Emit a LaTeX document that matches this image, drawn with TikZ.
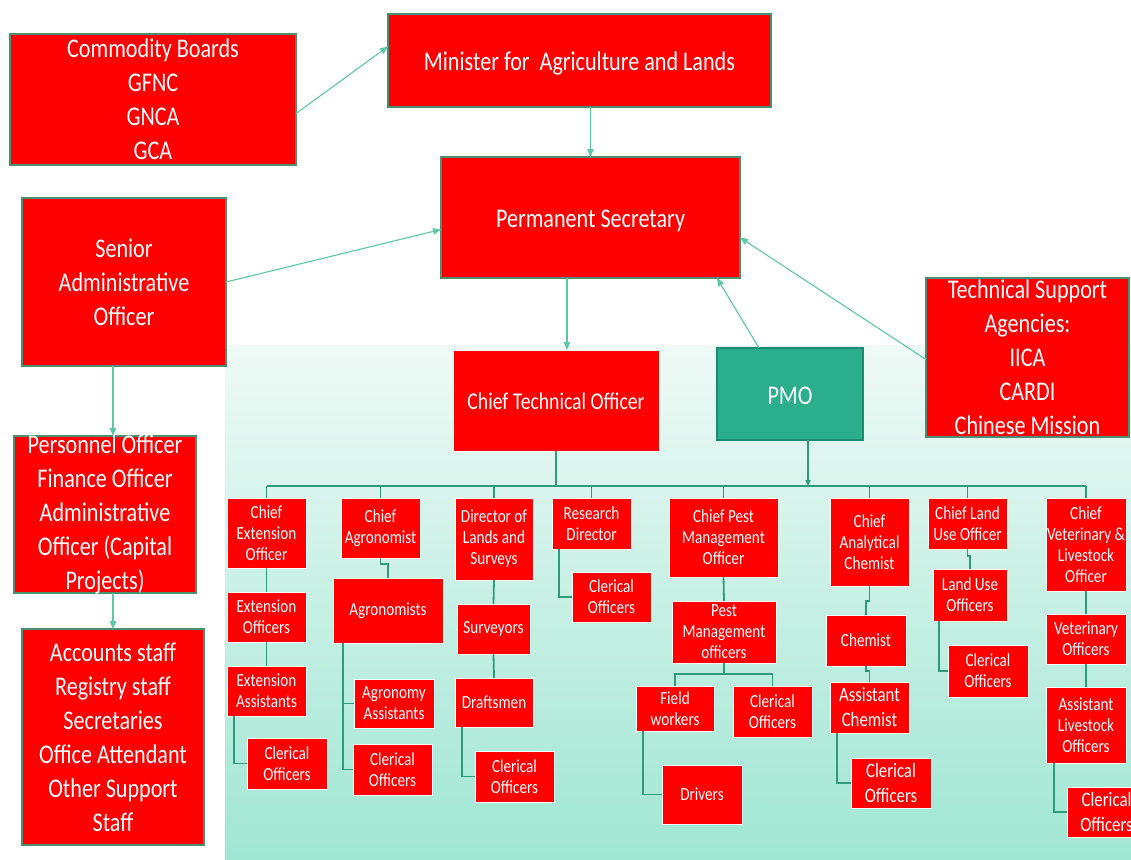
\documentclass[tikz,border=0pt]{standalone}
\usepackage{fontspec}
\setmainfont{Carlito}
\newfontfamily\cf{Carlito}[FakeStretch=0.82]
\usetikzlibrary{arrows.meta,calc}
\definecolor{redbox}{HTML}{FF0000}
\definecolor{bordG}{HTML}{4A9070}
\definecolor{pmoF}{HTML}{2BAE8C}
\definecolor{pmoB}{HTML}{1E8C6E}
\definecolor{arrC}{HTML}{5DC8A8}
\definecolor{treeC}{HTML}{2F9B7D}
\definecolor{bgTop}{HTML}{EFFAF6}
\definecolor{bgMid}{HTML}{B8ECDF}
\definecolor{bgBot}{HTML}{A0E6D3}
\tikzset{
  bigbox/.style={rectangle,draw=bordG,line width=1.2pt,fill=redbox,inner sep=0pt,outer sep=0pt},
  bigboxtxt/.style={text=white,align=center,inner sep=0pt,font=\cf\fontsize{27}{34}\selectfont},
  bigone/.style={bigbox},
  bigonetxt/.style={bigboxtxt,yshift=-3pt},
  ctobox/.style={rectangle,draw=white,line width=1pt,fill=redbox,inner sep=0pt,outer sep=0pt},
  ctoboxtxt/.style={text=white,align=center,inner sep=0pt,yshift=-1pt,font=\cf\fontsize{24}{29}\selectfont},
  pmobox/.style={rectangle,draw=pmoB,line width=1.2pt,fill=pmoF,inner sep=0pt,outer sep=0pt},
  pmoboxtxt/.style={text=white,align=center,inner sep=0pt,yshift=-2pt,font=\cf\fontsize{27}{34}\selectfont},
  smbox/.style={rectangle,draw=white,line width=1pt,fill=redbox,inner sep=0pt,outer sep=0pt},
  smboxtxt/.style={text=white,align=center,inner sep=0pt,font=\cf\fontsize{18.5}{21}\selectfont},
  sbbox/.style={rectangle,draw=white,line width=1pt,fill=redbox,inner sep=0pt,outer sep=0pt},
  sbboxtxt/.style={text=white,align=center,inner sep=0pt,font=\cf\fontsize{20.5}{25}\selectfont},
  arr/.style={draw=arrC,line width=1.1pt,-{Triangle[length=8pt,width=6.5pt]}},
  tree/.style={draw=treeC,line width=1.8pt},
  treearr/.style={draw=treeC,line width=1.4pt,-{Triangle[length=6pt,width=5pt]}}
}
\newcommand{\obox}[7]{%
  \node[#1, minimum width={#5-#3}, minimum height={#6-#4}] (#2) at ({(#3+#5)/2},{(#4+#6)/2}) {};
  \node[#1txt] at (#2.center) {#7};}
\begin{document}
\begin{tikzpicture}[x=1pt,y=-1pt]
\useasboundingbox (0,0) rectangle (1131,859);
\fill[white] (0,0) rectangle (1131,859);
\shade[top color=bgTop, middle color=bgMid, bottom color=bgBot] (225,345) rectangle (1131,859);

% top part
\obox{bigbox}{cb}{10}{34}{296}{165}{Commodity Boards\\GFNC\\GNCA\\GCA}
\obox{bigone}{mn}{388}{14}{771}{107}{Minister for\ \ Agriculture and Lands}
\obox{bigone}{ps}{441}{157}{740}{278}{Permanent Secretary}
\obox{bigbox}{sa}{22}{198}{226}{366}{Senior\\Administrative\\Officer}
\obox{bigbox}{tsa}{926}{278}{1129}{437}{Technical Support\\Agencies:\\IICA\\CARDI\\Chinese Mission}
\obox{bigbox}{po}{14}{436}{196}{593}{Personnel Officer\\Finance Officer\\Administrative\\Officer (Capital\\Projects)}
\obox{bigbox}{acc}{22}{629}{204}{845}{Accounts staff\\Registry staff\\Secretaries\\Office Attendant\\Other Support\\Staff}
\obox{ctobox}{cto}{453}{350}{659}{451}{Chief Technical Officer}
\obox{pmobox}{pmo}{717}{348}{863}{440}{PMO}

% arrows
\draw[arr] ([yshift=-14pt]cb.east) -- ([yshift=14pt]mn.west);
\draw[arr] (ps.north |- mn.south) -- (ps.north);
\draw[arr] (sa.east) -- ([yshift=-12pt]ps.west);
\draw[arr] ([yshift=-2pt]tsa.west) -- ([yshift=-20pt]ps.east);
\draw[arr] ([xshift=-31pt]pmo.north) -- ([xshift=-23pt]ps.south east);
\draw[arr] ([xshift=-23.5pt]ps.south) -- ([xshift=-23.5pt]ps.south |- cto.north);
\draw[arr] (acc.north |- sa.south) -- (acc.north |- po.north);
\draw[arr] (acc.north |- po.south) -- (acc.north);

% level 1
\obox{smbox}{ceo}{227}{498}{306}{568}{Chief\\Extension\\Officer}
\obox{smbox}{ca}{341}{498}{420}{558}{Chief\\Agronomist}
\obox{smbox}{dls}{455}{498}{533}{580}{Director of\\Lands and\\Surveys}
\obox{smbox}{rd}{552}{498}{631}{549}{Research\\Director}
\obox{smbox}{cpm}{669}{498}{778}{577}{Chief Pest\\Management\\Officer}
\obox{smbox}{cac}{830}{498}{909}{586}{Chief\\Analytical\\Chemist}
\obox{smbox}{clu}{928}{498}{1007}{549}{Chief Land\\Use Officer}
\obox{smbox}{cvo}{1046}{498}{1126}{591}{Chief\\Veterinary \&\\Livestock\\Officer}

% lower levels
\obox{smbox}{eo}{227}{592}{306}{642}{Extension\\Officers}
\obox{smbox}{eas}{227}{666}{306}{716}{Extension\\Assistants}
\obox{smbox}{co1}{247}{738}{327}{789}{Clerical\\Officers}
\obox{smbox}{agr}{333}{578}{443}{643}{Agronomists}
\obox{smbox}{aa}{354}{679}{434}{728}{Agronomy\\Assistants}
\obox{smbox}{co2}{353}{744}{432}{795}{Clerical\\Officers}
\obox{smbox}{sv}{457}{604}{530}{654}{Surveyors}
\obox{smbox}{dm}{455}{678}{533}{727}{Draftsmen}
\obox{smbox}{co3}{475}{751}{554}{802}{Clerical\\Officers}
\obox{smbox}{co4}{572}{572}{651}{622}{Clerical\\Officers}
\obox{smbox}{pmf}{672}{601}{776}{663}{Pest\\Management\\officers}
\obox{smbox}{fw}{636}{686}{714}{731}{Field\\workers}
\obox{smbox}{co5}{733}{686}{812}{737}{Clerical\\Officers}
\obox{smbox}{drv}{662}{765}{742}{824}{Drivers}
\obox{smbox}{chem}{826}{615}{906}{666}{Chemist}
\obox{sbbox}{ach}{830}{682}{909}{733}{Assistant\\Chemist}
\obox{sbbox}{co6}{851}{758}{931}{808}{Clerical\\Officers}
\obox{smbox}{luo}{933}{569}{1007}{621}{Land Use\\Officers}
\obox{smbox}{co7}{948}{645}{1028}{697}{Clerical\\Officers}
\obox{smbox}{vo}{1046}{614}{1126}{664}{Veterinary\\Officers}
\obox{smbox}{alo}{1046}{687}{1126}{763}{Assistant\\Livestock\\Officers}
\obox{sbbox}{co8}{1067}{787}{1146}{837}{Clerical\\Officers}

% tree connectors
\coordinate (bus) at (0,486);
\draw[tree] (cto.south) -- (cto.south |- bus);
\draw[tree] (ceo.north |- bus) -- (cvo.north |- bus);
\foreach \n in {ceo,ca,dls,rd,cpm,cac,clu,cvo}{\draw[tree] (\n.north |- bus) -- (\n.north);}
\draw[treearr] ([xshift=18pt]pmo.south) -- ([xshift=18pt]pmo.south |- bus);

\draw[tree] (ceo.south) -- (eo.north);
\draw[tree] (eo.south) -- (eas.north);
\draw[tree] ([xshift=7pt]eas.south west) |- (co1.west);

\draw[tree] (ca.south) -- ++(0,6) -| (agr.north);
\draw[tree] ([xshift=10pt]agr.south west) |- (aa.west);
\draw[tree] ([xshift=10pt]agr.south west) |- (co2.west);

\draw[tree] (dls.south) -- (sv.north);
\draw[tree] (sv.south) -- (dm.north);
\draw[tree] ([xshift=7pt]dm.south west) |- (co3.west);

\draw[tree] ([xshift=7pt]rd.south west) |- (co4.west);

\draw[tree] (cpm.south) -- (pmf.north);
\draw[tree] (pmf.south) -- ++(0,11) -| (fw.north);
\draw[tree] (pmf.south) -- ++(0,11) -| (co5.north);
\draw[tree] ([xshift=7pt]fw.south west) |- (drv.west);

\draw[tree] (cac.south) -- ++(0,15) -| (chem.north);
\draw[tree] (chem.south) -- ++(0,5) -| (ach.north);
\draw[tree] ([xshift=7pt]ach.south west) |- (co6.west);

\draw[tree] (clu.south) -- ++(0,7) -| (luo.north);
\draw[tree] ([xshift=6pt]luo.south west) |- (co7.west);

\draw[tree] (cvo.south) -- (vo.north);
\draw[tree] (vo.south) -- (alo.north);
\draw[tree] ([xshift=8pt]alo.south west) |- (co8.west);
\end{tikzpicture}
\end{document}
